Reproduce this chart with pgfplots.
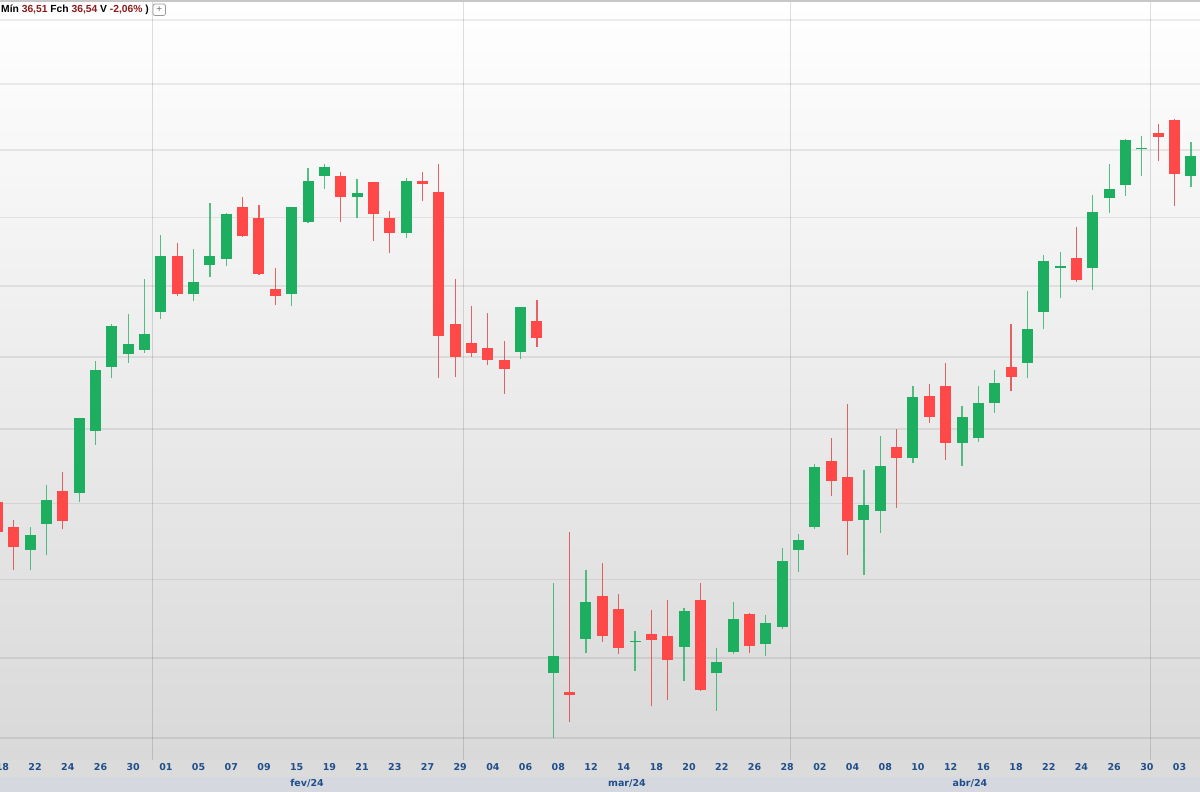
\documentclass[border=0pt]{standalone}
\usepackage{fontspec}
\usepackage{pgfplots}
\pgfplotsset{compat=1.18}
\usepackage{pgfplotstable}
\newfontfamily\lblfont{DejaVu Sans}
\newfontfamily\hdrfont{Liberation Sans}
\definecolor{cgreen}{HTML}{1DAE60}
\definecolor{cred}{HTML}{FF4848}
\definecolor{tickblue}{HTML}{1F4E8A}
\definecolor{hdrred}{HTML}{8E1B1B}
\definecolor{bandcol}{HTML}{D5D8DE}

% green candles: index, open, high, low, close
\pgfplotstableread{
i o h l c
2 38.39 38.69 38.13 38.59
3 38.73 39.25 38.32 39.05
5 39.15 40.16 39.02 40.16
6 39.98 40.94 39.79 40.82
7 40.86 41.46 40.70 41.43
8 41.04 41.60 40.92 41.19
9 41.10 42.10 41.06 41.32
10 41.64 42.74 41.53 42.44
12 41.89 42.54 41.79 42.06
13 42.31 43.21 42.13 42.44
14 42.39 43.06 42.29 43.05
18 41.89 43.16 41.72 43.15
19 42.94 43.73 42.92 43.54
20 43.61 43.79 43.42 43.75
22 43.30 43.57 42.99 43.36
25 42.77 43.58 42.70 43.54
32 41.07 41.71 40.97 41.70
34 36.81 37.96 36.00 37.02
36 37.24 38.13 37.06 37.71
39 37.20 37.34 36.83 37.22
42 37.14 37.64 36.71 37.60
44 36.81 37.12 36.34 36.95
45 37.07 37.71 37.05 37.50
47 37.18 37.55 37.02 37.44
48 37.39 38.42 37.37 38.24
49 38.39 38.60 38.10 38.53
50 38.70 39.53 38.66 39.49
53 38.78 39.45 38.06 38.98
54 38.91 39.92 38.61 39.51
56 39.61 40.60 39.55 40.45
59 39.82 40.32 39.51 40.17
60 39.88 40.59 39.83 40.36
61 40.36 40.82 40.23 40.64
63 40.92 41.93 40.71 41.39
64 41.64 42.45 41.39 42.37
65 42.26 42.50 41.83 42.29
67 42.26 43.33 41.95 43.08
68 43.29 43.79 43.06 43.42
69 43.48 44.16 43.32 44.15
70 44.01 44.21 43.61 44.03
73 43.61 44.12 43.45 43.91
}\greentab

% red candles: index, open, high, low, close
\pgfplotstableread{
i o h l c
0 39.02 39.11 38.52 38.63
1 38.69 38.78 38.13 38.43
4 39.17 39.42 38.66 38.77
11 42.44 42.63 41.87 41.89
15 43.15 43.30 42.72 42.73
16 42.99 43.18 42.17 42.18
17 41.96 42.26 41.74 41.86
21 43.61 43.67 42.94 43.30
23 43.52 43.53 42.66 43.05
24 42.99 43.09 42.48 42.77
26 43.54 43.67 43.24 43.49
27 43.37 43.79 40.71 41.30
28 41.46 42.10 40.72 41.00
29 41.20 41.72 41.00 41.06
30 41.13 41.62 40.89 40.96
31 40.96 41.23 40.49 40.83
33 41.50 41.80 41.14 41.26
35 36.57 38.63 36.20 36.54
37 37.79 38.22 37.20 37.28
38 37.62 37.82 37.05 37.12
40 37.30 37.61 36.40 37.23
41 37.28 37.74 36.47 36.97
43 37.74 37.96 36.58 36.60
46 37.56 37.57 37.06 37.15
51 39.57 39.88 39.10 39.30
52 39.36 40.35 38.32 38.77
55 39.77 40.00 38.95 39.61
57 40.46 40.63 40.09 40.17
58 40.59 40.92 39.59 39.82
62 40.86 41.46 40.52 40.72
66 42.41 42.86 42.07 42.09
71 44.25 44.39 43.84 44.19
72 44.46 44.47 43.17 43.64
}\redtab

\pgfplotsset{
  wickG/.style={draw=cgreen, draw opacity=0.75, line width=1.2pt, mark=none, forget plot},
  wickR/.style={draw=cred!88!black, draw opacity=0.8, line width=1.2pt, mark=none, forget plot},
  bodyG/.style={draw=cgreen, line width=11pt, line cap=butt, mark=none, forget plot},
  bodyR/.style={draw=cred, line width=11pt, line cap=butt, mark=none, forget plot},
}

% draws the candles of one table (#1) with wick style #2 and body style #3
\newcommand\candles[3]{%
  \pgfplotstablegetrowsof{#1}%
  \pgfmathtruncatemacro\nrows{\pgfplotsretval-1}%
  \pgfplotsforeachungrouped \r in {0,...,\nrows}{%
    \pgfplotstablegetelem{\r}{i}\of{#1}\let\ci\pgfplotsretval
    \pgfplotstablegetelem{\r}{o}\of{#1}\let\co\pgfplotsretval
    \pgfplotstablegetelem{\r}{h}\of{#1}\let\ch\pgfplotsretval
    \pgfplotstablegetelem{\r}{l}\of{#1}\let\cl\pgfplotsretval
    \pgfplotstablegetelem{\r}{c}\of{#1}\let\cc\pgfplotsretval
    \edef\tmp{%
      \noexpand\addplot[#2] coordinates {(\ci,\cl) (\ci,\ch)};%
      \noexpand\addplot[#3] coordinates {(\ci,\co) (\ci,\cc)};%
    }\tmp
  }%
}

\begin{document}
\begin{tikzpicture}[x=1pt,y=1pt]
\path[use as bounding box] (0pt,0pt) rectangle (1200pt,792pt);
\fill[white] (0pt,0pt) rectangle (1200pt,792pt);
% tick-label strip and month band
\fill[black!14] (0pt,15pt) rectangle (1200pt,32pt);
\fill[bandcol] (0pt,0pt) rectangle (1200pt,15pt);
\begin{axis}[
  at={(0pt,32pt)}, anchor=south west,
  scale only axis, width=1200pt, height=760pt,
  xmin=0.159, xmax=73.554,
  % logarithmic price scale (natural log, shifted to keep numbers small)
  y coord trafo/.code={\pgfmathparse{ln(#1)-3.58}},
  y coord inv trafo/.code={\pgfmathparse{exp(#1+3.58)}},
  ymin=35.731, ymax=46.315,
  axis line style={draw=none},
  tick style={draw=none},
  axis background/.style={top color=white, bottom color=black!15},
  ytick={36,37,38,39,40,41,42,43,44,45,46},
  yticklabels={},
  ymajorgrids,
  major grid style={black, opacity=0.075, line width=1.8pt},
  xtick={2,4,...,72},
  xticklabels={22,24,26,30,01,05,07,09,15,19,21,23,27,29,04,06,08,12,14,18,20,22,26,28,02,04,08,10,12,16,18,22,24,26,30,03},
  xticklabel style={font=\lblfont\bfseries\fontsize{9.5}{11}\selectfont, text=tickblue, anchor=center, text height=6.9pt, text depth=0pt, yshift=-7.5pt, xshift=5pt},
  extra x ticks={9.5,28.5,48.5,70.5},
  extra x tick labels={},
  extra x tick style={grid=major, major grid style={black, opacity=0.13, line width=0.9pt}},
]
\candles{\greentab}{wickG}{bodyG}
\candles{\redtab}{wickR}{bodyR}
\end{axis}
% first (cut) date label
\node[font=\lblfont\bfseries\fontsize{9.5}{11}\selectfont, text=tickblue, anchor=center, text height=6.9pt, text depth=0pt] at (2.4pt,24.5pt) {18};
% month labels
\begin{scope}[font=\lblfont\bfseries\fontsize{9.5}{11}\selectfont, text=tickblue]
\node at (307pt,9pt) {fev/24};
\node at (627pt,9pt) {mar/24};
\node at (970pt,9pt) {abr/24};
\end{scope}
% top border and header
\draw[black!22, line width=1.6pt] (0pt,791.2pt) -- (1200pt,791.2pt);
\node[anchor=base west, inner sep=0pt, font=\hdrfont\bfseries\fontsize{10.3}{12}\selectfont] at (1pt,779.3pt)
  {Mín \textcolor{hdrred}{36,51} Fch \textcolor{hdrred}{36,54} V \textcolor{hdrred}{-2,06\%} )};
\draw[black!40, fill=white, rounded corners=2pt, line width=0.7pt] (153pt,776.5pt) rectangle (165.5pt,788pt);
\node[text=black!55, font=\hdrfont\fontsize{10}{12}\selectfont, inner sep=0pt] at (159.25pt,782.3pt) {+};
\end{tikzpicture}
\end{document}
